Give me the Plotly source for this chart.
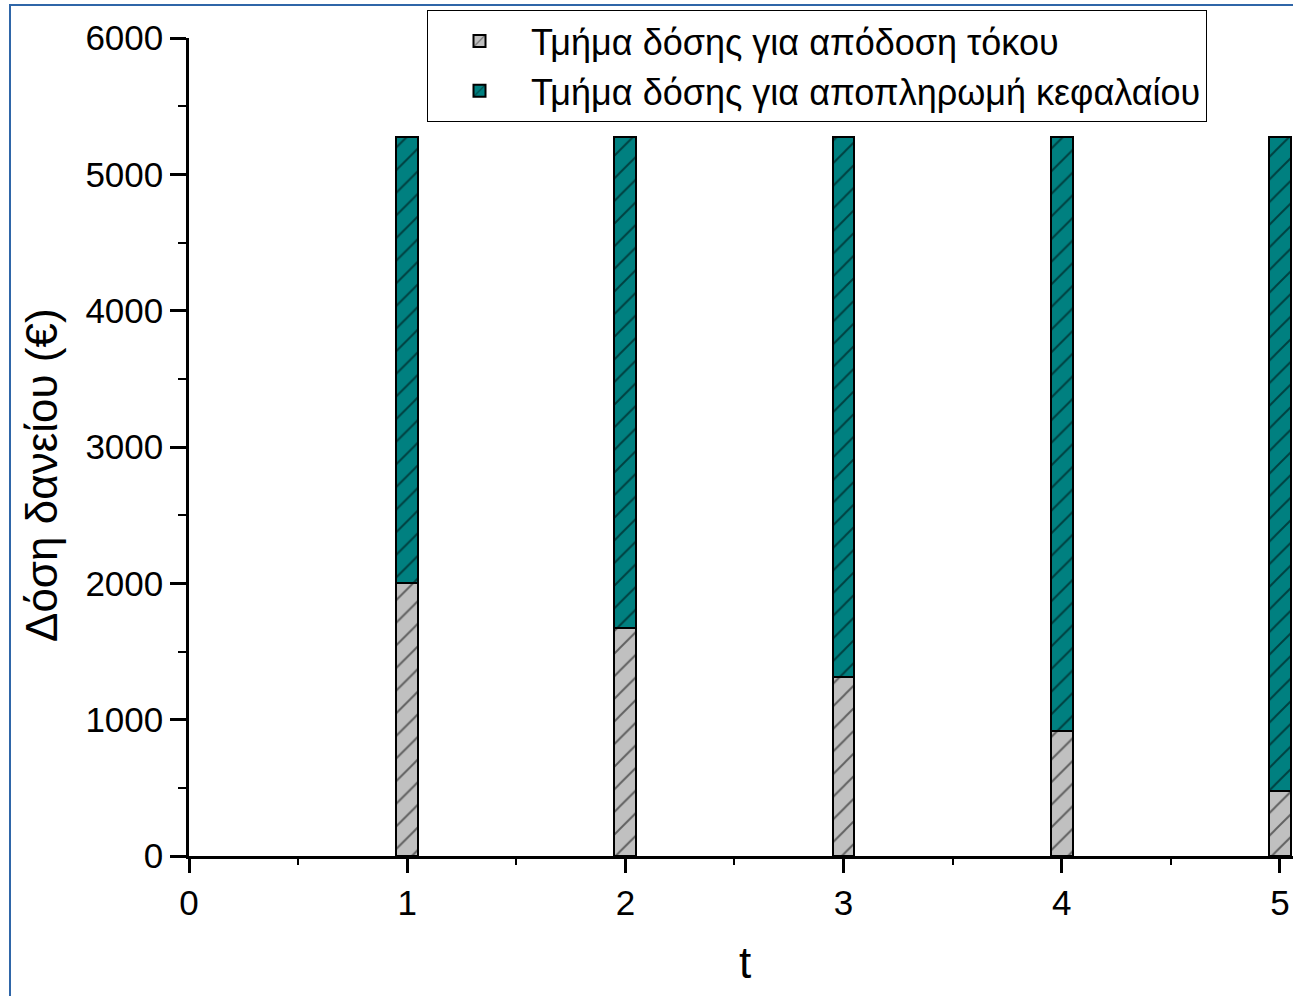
import plotly.graph_objects as go

periods = [1, 2, 3, 4, 5]
interest = [2000.0, 1672.4, 1311.9, 915.5, 479.6]
principal = [3276.0, 3603.5, 3964.0, 4360.4, 4796.3]
names = ["Τμήμα δόσης για απόδοση τόκου", "Τμήμα δόσης για αποπληρωμή κεφαλαίου"]
x_ticks = [0, 1, 2, 3, 4, 5]
y_ticks = [0, 1000, 2000, 3000, 4000, 5000, 6000]
x_title = "t"
y_title = "Δόση δανείου (€)"

FONT = "Liberation Sans, Arial, sans-serif"
W, H = 1293, 996
L, R, T, B = 189, 0, 38, 140
PW, PH = W - L - R, H - T - B


def px_x(p):
    return (p - L) / PW


def px_y(p):
    return 1 - (p - T) / PH


fig = go.Figure()
fig.add_trace(go.Bar(
    x=periods, y=interest, name=names[0], width=0.1,
    marker=dict(color="#c0c0c0", line=dict(color="black", width=2),
                pattern=dict(shape="/", fgcolor="black", size=16, solidity=0.12)),
))
fig.add_trace(go.Bar(
    x=periods, y=principal, name=names[1], width=0.1,
    marker=dict(color="#008080", line=dict(color="black", width=2),
                pattern=dict(shape="/", fgcolor="black", size=16, solidity=0.12)),
))

fig.update_layout(
    barmode="stack",
    width=W, height=H,
    margin=dict(l=L, r=R, t=T, b=B, autoexpand=False),
    paper_bgcolor="white", plot_bgcolor="white",
    font=dict(family=FONT, color="black", size=35),
    showlegend=True,
    legend=dict(
        x=px_x(427), y=px_y(10), xanchor="left", yanchor="top",
        bgcolor="white", bordercolor="black", borderwidth=1,
        font=dict(family=FONT, size=36, color="black"),
        traceorder="normal", tracegroupgap=0, itemwidth=93,
    ),
    xaxis=dict(
        range=[0, 5.06], tickvals=x_ticks, ticktext=[str(v) for v in x_ticks],
        showline=True, linecolor="black", linewidth=2.5, showgrid=False, zeroline=False,
        ticks="outside", ticklen=14, tickwidth=2.5, tickcolor="black",
        tickfont=dict(size=35),
        minor=dict(dtick=0.5, tick0=0, ticks="outside", ticklen=6, tickwidth=2, tickcolor="black"),
    ),
    yaxis=dict(
        range=[0, 6000], tickvals=y_ticks, ticktext=[str(v) for v in y_ticks],
        showline=True, linecolor="black", linewidth=2.5, showgrid=False, zeroline=False,
        ticks="outside", ticklen=16, tickwidth=2.5, tickcolor="black",
        tickfont=dict(size=35),
        minor=dict(dtick=500, tick0=0, ticks="outside", ticklen=8, tickwidth=2, tickcolor="black"),
    ),
    annotations=[
        dict(text=x_title, xref="paper", yref="paper", x=px_x(745), y=px_y(963),
             xanchor="center", yanchor="middle", showarrow=False, font=dict(size=44)),
        dict(text=y_title, xref="paper", yref="paper", x=px_x(41), y=px_y(475),
             xanchor="center", yanchor="middle", showarrow=False, textangle=-90,
             font=dict(size=44)),
    ],
    shapes=[dict(
        type="rect", xref="paper", yref="paper",
        x0=px_x(10), x1=1.2, y0=-0.3, y1=px_y(5),
        line=dict(color="#2f66a8", width=2), fillcolor="rgba(0,0,0,0)", layer="below",
    )],
)

fig.write_html(
    "out.html",
    config={"displayModeBar": False},
    post_script="document.body.style.margin='0';document.body.style.overflow='hidden';",
)
